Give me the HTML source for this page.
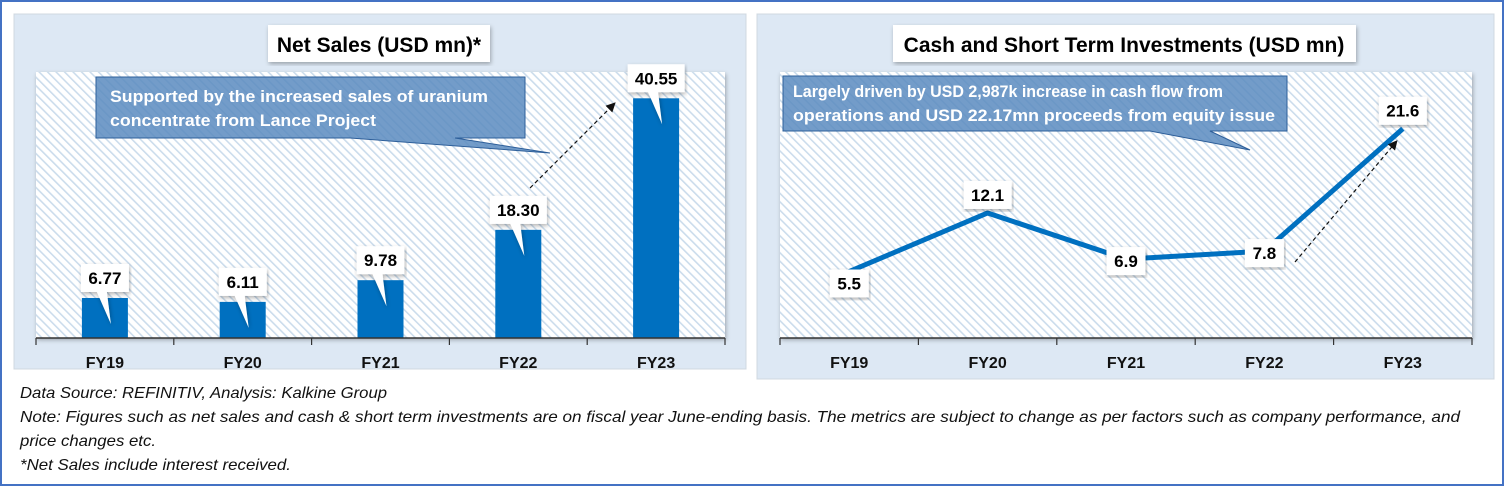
<!DOCTYPE html>
<html><head><meta charset="utf-8">
<style>
html,body{margin:0;padding:0;background:#fff;}
svg{display:block;font-family:"Liberation Sans Narrow","Liberation Sans",sans-serif;}
.foot{font-style:italic;font-size:16px;fill:#111;}
</style></head>
<body>
<svg id="s" width="1504" height="486" viewBox="0 0 1504 486" xmlns="http://www.w3.org/2000/svg">
<defs>
<pattern id="hatch" patternUnits="userSpaceOnUse" width="6" height="6" patternTransform="rotate(-45)">
<rect width="6" height="6" fill="#ffffff"/>
<rect width="1.6" height="6" fill="#cbdcec"/>
</pattern>
<marker id="arr" markerWidth="8" markerHeight="8" refX="6" refY="4" orient="auto"><path d="M0,0 L8,4 L0,8 z" fill="#111"/></marker>
<filter id="sh" x="-5%" y="-5%" width="110%" height="115%"><feDropShadow dx="1" dy="2" stdDeviation="2" flood-color="#000" flood-opacity="0.3"/></filter>
</defs>
<rect x="1" y="1" width="1502" height="484" fill="#fff" stroke="#4472c4" stroke-width="2"/>

<g>
<rect x="14" y="14" width="732" height="355" fill="#dde8f4" stroke="#d0d8e0"/>
<rect x="36" y="72" width="689" height="266" fill="url(#hatch)" filter="url(#sh)"/>
<rect x="268" y="25" width="222" height="37" fill="#fff" filter="url(#sh)"/>
<text x="379" y="52" text-anchor="middle" font-size="21" font-weight="bold" fill="#000">Net Sales (USD mn)*</text>
<g id="bars"></g>
<line x1="530" y1="188" x2="614" y2="104" stroke="#111" stroke-width="1.2" stroke-dasharray="4,3" marker-end="url(#arr)"/>
<path d="M96,77 H525 V138 H455 L550,153 L350,138 H96 Z" fill="#5a8bbf" fill-opacity="0.85" stroke="#2e5f9a"/>
<text x="110" y="102" font-size="17" font-weight="bold" fill="#fff" textLength="378" lengthAdjust="spacingAndGlyphs">Supported by the increased sales of uranium</text>
<text x="110" y="126" font-size="17" font-weight="bold" fill="#fff" textLength="266" lengthAdjust="spacingAndGlyphs">concentrate from Lance Project</text>
</g>

<g>
<rect x="757" y="14" width="737" height="365" fill="#dde8f4" stroke="#d0d8e0"/>
<rect x="780" y="72" width="692" height="266" fill="url(#hatch)" filter="url(#sh)"/>
<rect x="893" y="25" width="463" height="37" fill="#fff" filter="url(#sh)"/>
<text x="1124" y="52" text-anchor="middle" font-size="21" font-weight="bold" fill="#000">Cash and Short Term Investments (USD mn)</text>
<g id="line"></g>
<line x1="1295" y1="262" x2="1396" y2="142" stroke="#111" stroke-width="1.2" stroke-dasharray="4,3" marker-end="url(#arr)"/>
<path d="M783,76 H1287 V131 H1210 L1250,150 L1150,131 H783 Z" fill="#5a8bbf" fill-opacity="0.85" stroke="#2e5f9a"/>
<text x="793" y="97" font-size="17" font-weight="bold" fill="#fff" textLength="430" lengthAdjust="spacingAndGlyphs">Largely driven by USD 2,987k increase in cash flow from</text>
<text x="793" y="121" font-size="17" font-weight="bold" fill="#fff" textLength="482" lengthAdjust="spacingAndGlyphs">operations and USD 22.17mn proceeds from equity issue</text>
</g>

<text class="foot" x="20" y="398" textLength="367" lengthAdjust="spacingAndGlyphs">Data Source: REFINITIV, Analysis: Kalkine Group</text>
<text class="foot" x="20" y="422" textLength="1440" lengthAdjust="spacingAndGlyphs">Note: Figures such as net sales and cash &amp; short term investments are on fiscal year June-ending basis. The metrics are subject to change as per factors such as company performance, and</text>
<text class="foot" x="20" y="446" textLength="136" lengthAdjust="spacingAndGlyphs">price changes etc.</text>
<text class="foot" x="20" y="470" textLength="271" lengthAdjust="spacingAndGlyphs">*Net Sales include interest received.</text>
</svg>
<script>
const categories = ["FY19","FY20","FY21","FY22","FY23"];
const salesValues = [6.77, 6.11, 9.78, 18.30, 40.55];
const salesLabels = ["6.77","6.11","9.78","18.30","40.55"];
const cashValues = [5.5, 12.1, 6.9, 7.8, 21.6];
const cashLabels = ["5.5","12.1","6.9","7.8","21.6"];

const NS = "http://www.w3.org/2000/svg";
function mk(tag, attrs, parent){const e=document.createElementNS(NS,tag);for(const k in attrs)e.setAttribute(k,attrs[k]);parent.appendChild(e);return e;}

function drawAxis(g, x0, x1, yAxis, prefix){
  const ax = mk('line',{x1:x0,y1:yAxis,x2:x1,y2:yAxis,stroke:'#333','stroke-width':1.5},g);
  
  
  const bw=(x1-x0)/categories.length;
  for(let i=0;i<=categories.length;i++){
    const t=mk('line',{x1:x0+i*bw,y1:yAxis,x2:x0+i*bw,y2:yAxis+7,stroke:'#333','stroke-width':1.2},g);
    
    
  }
  categories.forEach((c,i)=>{
    const tx=mk('text',{x:x0+(i+0.5)*bw,y:yAxis+30,'text-anchor':'middle','font-size':16,'font-weight':'bold',fill:'#111'},g);
    tx.textContent=c;
    
    
  });
}
function labelBox(g, cx, cy, txt, tailX, tailY, prefix){
  const w=txt.length*9+12, h=28;
  const p=mk('path',{d:`M${cx-w/2},${cy-h/2} H${cx+w/2} V${cy+h/2} H${cx+2} L${tailX},${tailY} L${cx-8},${cy+h/2} H${cx-w/2} Z`,fill:'#fff',filter:'url(#sh)'},g);
  
  
  const t=mk('text',{x:cx,y:cy+6,'text-anchor':'middle','font-size':17,'font-weight':'bold',fill:'#000'},g);
  t.textContent=txt;
  
  
}

(function(){
  const g=document.getElementById('bars');
  const x0=36,x1=725,yAxis=338,yTop=72,vMax=45;
  const bw=(x1-x0)/categories.length;
  const y=v=>yAxis-(v/vMax)*(yAxis-yTop);
  salesValues.forEach((v,i)=>{
    const cx=x0+(i+0.5)*bw;
    const r=mk('rect',{x:cx-23,y:y(v),width:46,height:yAxis-y(v),fill:'#0070c0'},g);
    
    
  });
  drawAxis(g,x0,x1,yAxis,'net-sales');
  salesValues.forEach((v,i)=>{
    const cx=x0+(i+0.5)*bw;
    labelBox(g,cx,y(v)-20,salesLabels[i],cx+6,y(v)+26,'net-sales');
  });
})();

(function(){
  const g=document.getElementById('line');
  const x0=780,x1=1472,yAxis=338,yTop=72,vMin=-2,vMax=28;
  const bw=(x1-x0)/categories.length;
  const xs=i=>x0+(i+0.5)*bw;
  const y=v=>yAxis-(v-vMin)/(vMax-vMin)*(yAxis-yTop);
  drawAxis(g,x0,x1,yAxis,'cash');
  const pts=cashValues.map((v,i)=>xs(i)+','+y(v)).join(' ');
  const pl=mk('polyline',{points:pts,fill:'none',stroke:'#0070c0','stroke-width':5,'stroke-linejoin':'round'},g);
  
  
  cashValues.forEach((v,i)=>{
    const above = i===1||i===4;
    const cy = above ? y(v)-18 : (i===0 ? y(v)+12 : y(v)+2);
    const w=cashLabels[i].length*9+12,h=28;
    const r=mk('rect',{x:xs(i)-w/2,y:cy-h/2,width:w,height:h,fill:'#fff',filter:'url(#sh)'},g);
    
    
    const t=mk('text',{x:xs(i),y:cy+6,'text-anchor':'middle','font-size':17,'font-weight':'bold',fill:'#000'},g);
    t.textContent=cashLabels[i];
    
    
  });
})();
</script>
</body></html>
